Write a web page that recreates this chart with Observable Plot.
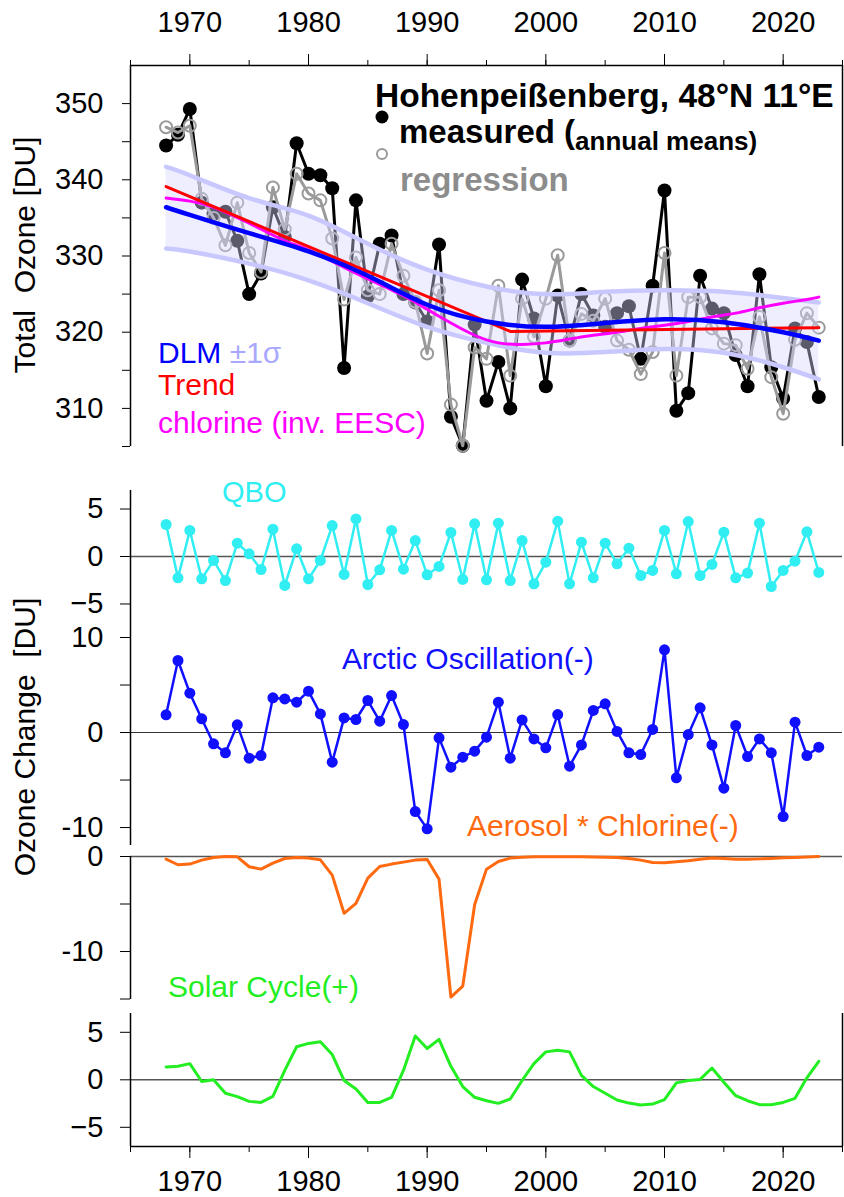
<!DOCTYPE html>
<html><head><meta charset="utf-8">
<script src="https://cdn.jsdelivr.net/npm/d3@7"></script>
<script src="https://cdn.jsdelivr.net/npm/@observablehq/plot@0.6"></script>
<style>
body{margin:0;background:#fff;}
#wrap{position:relative;width:844px;height:1197px;font-family:"Liberation Sans",Arial,sans-serif;}
#wrap svg{position:absolute;left:0;top:0;}
</style></head><body><div id="wrap"></div>
<script>
// ---------- data ----------
const years = d3.range(1968, 2024);
const measured = [344.5,345.9,349.3,337.0,335.5,335.8,332.0,325.0,327.7,336.4,332.5,344.8,340.8,340.6,338.9,
  315.3,337.3,324.7,331.6,332.7,325.0,323.9,321.4,331.5,308.9,305.1,321.0,311.0,316.1,310.0,326.9,321.8,
  312.9,324.8,318.9,325.0,322.2,320.7,322.5,323.4,316.5,326.1,338.6,309.7,312.0,327.4,323.1,322.5,317.0,
  312.9,327.6,315.4,311.3,320.5,318.7,311.5];
const regression = [346.9,346.2,347.1,337.5,335.0,331.4,337.0,330.4,327.9,339.0,333.5,340.8,338.2,337.3,332.3,
  324.3,329.8,325.5,325.0,331.6,327.4,324.0,317.2,325.5,310.5,305.1,318.0,316.5,326.1,314.3,324.4,319.4,
  324.4,330.1,318.9,322.4,321.5,324.4,318.9,317.7,314.5,317.4,330.4,314.3,324.6,324.6,320.5,318.5,318.3,
  315.2,322.0,314.1,309.3,319.0,322.5,320.6];
const smoothYears = [1968,1970,1975,1980,1985,1990,1995,2000,2005,2010,2015,2020,2023];
const dlm       = [336.4,335.4,333.0,330.6,327.4,323.6,321.4,320.7,321.2,321.7,321.3,320.0,318.9];
const bandUpper = [341.7,340.6,337.6,335.3,331.6,328.2,326.0,325.0,325.3,325.5,325.3,324.5,323.9];
const bandLower = [331.0,330.6,329.0,326.8,323.8,320.7,318.6,317.3,317.4,317.8,317.3,315.4,313.8];
const chlorineYears = [1968,1970,1972,1975,1978,1980,1983,1985,1988,1990,1992,1994,1996,1998,2000,2002,2004,
  2006,2008,2010,2012,2014,2016,2018,2020,2022,2023];
const chlorine = [337.6,337.2,336.4,334.3,332.0,330.8,328.5,327.0,324.8,323.0,321.2,319.6,318.6,318.4,318.6,
  319.1,319.6,320.0,320.5,320.9,321.4,322.0,322.5,323.2,323.8,324.3,324.6];
const trendYears = [1968,1997,2023];
const trend = [339.1,320.1,320.6];
const qbo = [3.37,-2.25,2.74,-2.35,-0.42,-2.53,1.40,0.28,-1.37,2.88,-3.05,0.81,-2.35,-0.42,3.26,-1.89,3.96,
  -2.95,-1.40,2.74,-1.33,1.68,-1.93,-1.05,2.53,-2.42,3.44,-2.46,3.51,-2.53,1.68,-2.88,-0.60,3.72,-2.88,1.51,
  -2.25,1.40,-0.77,0.88,-2.00,-1.47,2.74,-1.82,3.68,-2.00,-0.84,2.56,-2.25,-1.75,3.51,-3.16,-1.47,-0.49,2.60,-1.68];
const ao = [1.86,7.58,4.14,1.44,-1.19,-2.14,0.81,-2.70,-2.42,3.65,3.54,3.19,4.35,1.96,-3.12,1.54,1.37,3.37,
  1.19,3.89,0.84,-8.32,-10.14,-0.56,-3.65,-2.60,-1.96,-0.49,3.19,-2.70,1.33,-0.67,-1.61,1.89,-3.54,-1.30,2.32,
  3.02,0.11,-2.14,-2.32,0.32,8.70,-4.77,-0.21,2.60,-1.30,-5.86,0.74,-2.53,-0.67,-2.14,-8.84,1.09,-2.42,-1.54];
const aerosol = [-0.28,-0.87,-0.80,-0.38,-0.10,0.0,-0.03,-1.08,-1.33,-0.70,-0.21,-0.10,-0.17,-0.35,-1.96,
  -5.98,-4.93,-2.27,-1.05,-0.80,-0.59,-0.38,-0.31,-2.38,-14.79,-13.64,-5.07,-1.33,-0.52,-0.17,-0.07,-0.03,
  -0.02,-0.02,-0.03,-0.03,-0.05,-0.07,-0.10,-0.20,-0.38,-0.63,-0.66,-0.56,-0.45,-0.28,-0.17,-0.21,-0.28,
  -0.28,-0.25,-0.20,-0.14,-0.10,-0.05,0.0];
const solar = [1.35,1.42,1.70,-0.18,0.0,-1.42,-1.77,-2.27,-2.38,-1.74,0.99,3.48,3.83,4.01,2.66,-0.07,-0.96,
  -2.38,-2.38,-1.84,0.99,4.61,3.30,4.26,1.42,-0.71,-1.84,-2.20,-2.48,-2.02,-0.07,1.70,2.94,3.12,2.94,0.46,
  -0.71,-1.42,-2.13,-2.45,-2.66,-2.55,-2.09,-0.32,-0.07,0.04,1.24,-0.25,-1.67,-2.20,-2.62,-2.62,-2.38,-1.95,0.21,1.95];
const decadeTicks = [1970,1980,1990,2000,2010,2020];
const fiveYearTicks = d3.range(1965, 2026, 5);
const ozoneTicks = d3.range(305, 351, 5);

// ---------- tables built from the arrays ----------
const rows = years.map((year, i) => ({year, measured: measured[i], regression: regression[i],
  qbo: qbo[i], ao: ao[i], aerosol: aerosol[i], solar: solar[i]}));
const smooth = smoothYears.map((year, i) => ({year, dlm: dlm[i], hi: bandUpper[i], lo: bandLower[i]}));
const chl = chlorineYears.map((year, i) => ({year, v: chlorine[i]}));
const trd = trendYears.map((year, i) => ({year, v: trend[i]}));

// ---------- layout (page pixels) ----------
const W = 844, H = 1197;
const FONT = "'Liberation Sans', Arial, sans-serif";
const AX = {stroke: "#000", strokeWidth: 1.5};
const QBO_C = "#30eef2", AO_C = "#1010ff", AER_C = "#ff6a10", SOL_C = "#22ee22";
const base = {
  width: W, height: H, marginLeft: 130, marginRight: 2,
  x: {domain: [1965, 2025], axis: null},
  style: {background: "transparent", fontFamily: FONT, overflow: "visible"}
};
const wrap = document.getElementById("wrap");
function add(p) { wrap.appendChild(p); }

// Panel 1: total ozone
add(Plot.plot({
  ...base, marginTop: 65, marginBottom: H - 446,
  y: {domain: [305, 355], axis: null},
  marks: [
    Plot.line(rows, {x: "year", y: "measured", stroke: "#000", strokeWidth: 3}),
    Plot.dot(rows, {x: "year", y: "measured", r: 7, fill: "#000", stroke: "none"}),
    Plot.line(rows, {x: "year", y: "regression", stroke: "#9a9a9a", strokeWidth: 3}),
    Plot.dot(rows, {x: "year", y: "regression", r: 6, fill: "none", stroke: "#9a9a9a", strokeWidth: 2}),
    Plot.areaY(smooth, {x: "year", y1: "lo", y2: "hi", fill: "#d6d6ff", fillOpacity: 0.42, curve: "natural"}),
    Plot.line(smooth, {x: "year", y: "hi", stroke: "#c8c8ff", strokeWidth: 4.5, curve: "natural"}),
    Plot.line(smooth, {x: "year", y: "lo", stroke: "#c8c8ff", strokeWidth: 4.5, curve: "natural"}),
    Plot.line(chl, {x: "year", y: "v", stroke: "#ff00ff", strokeWidth: 3, curve: "natural"}),
    Plot.line(trd, {x: "year", y: "v", stroke: "#ff0000", strokeWidth: 3}),
    Plot.line(smooth, {x: "year", y: "dlm", stroke: "#0000ff", strokeWidth: 4.5, curve: "natural"}),
    Plot.ruleX([1965, 2025], {...AX}),
    Plot.ruleY([355], {...AX}),
    Plot.axisX({anchor: "top", ticks: fiveYearTicks, tickSize: 6, tickFormat: () => "", label: null}),
    Plot.axisX({anchor: "top", ticks: decadeTicks, tickSize: 12, tickPadding: 22, fontSize: 29, tickFormat: d => String(d), label: null}),
    Plot.axisY({ticks: ozoneTicks, tickSize: 8, tickPadding: 19, fontSize: 29, tickFormat: d => d % 10 === 0 ? String(d) : "", label: null})
  ]
}));

// Panel 2: QBO
add(Plot.plot({
  ...base, marginTop: 490, marginBottom: H - 620,
  y: {domain: [-6.74, 6.95], axis: null},
  marks: [
    Plot.ruleY([0], {stroke: "#555", strokeWidth: 1.5}),
    Plot.ruleX([1965], {...AX}),
    Plot.axisY({ticks: [-5, 0, 5], tickSize: 10, tickPadding: 17, fontSize: 29, label: null}),
    Plot.line(rows, {x: "year", y: "qbo", stroke: QBO_C, strokeWidth: 2.5}),
    Plot.dot(rows, {x: "year", y: "qbo", r: 5.5, fill: QBO_C, stroke: "none"})
  ]
}));

// Panel 3: Arctic Oscillation
add(Plot.plot({
  ...base, marginTop: 620, marginBottom: H - 845,
  y: {domain: [-11.89, 11.79], axis: null},
  marks: [
    Plot.ruleY([0], {stroke: "#333", strokeWidth: 1.2}),
    Plot.ruleX([1965], {...AX}),
    Plot.axisY({ticks: [-10, -5, 0, 5, 10], tickSize: 10, tickPadding: 17, fontSize: 29,
      tickFormat: d => d % 10 === 0 ? String(d) : "", label: null}),
    Plot.line(rows, {x: "year", y: "ao", stroke: AO_C, strokeWidth: 2.5}),
    Plot.dot(rows, {x: "year", y: "ao", r: 5.5, fill: AO_C, stroke: "none"})
  ]
}));

// Panel 4: Aerosol * Chlorine
add(Plot.plot({
  ...base, marginTop: 856, marginBottom: H - 999,
  y: {domain: [-15.05, 0], axis: null},
  marks: [
    Plot.ruleY([0], {stroke: "#555", strokeWidth: 1.5}),
    Plot.ruleX([1965], {...AX}),
    Plot.axisY({ticks: [-15, -10, -5, 0], tickSize: 10, tickPadding: 17, fontSize: 29,
      tickFormat: d => d % 10 === 0 ? String(d) : "", label: null}),
    Plot.line(rows, {x: "year", y: "aerosol", stroke: AER_C, strokeWidth: 3})
  ]
}));

// Panel 5: Solar cycle
add(Plot.plot({
  ...base, marginTop: 1013, marginBottom: H - 1146,
  y: {domain: [-7.02, 6.98], axis: null},
  marks: [
    Plot.ruleY([0], {stroke: "#555", strokeWidth: 1.5}),
    Plot.ruleX([1965, 2025], {...AX}),
    Plot.ruleY([-7.02], {...AX}),
    Plot.axisY({ticks: [-5, 0, 5], tickSize: 10, tickPadding: 17, fontSize: 29, label: null}),
    Plot.axisX({anchor: "bottom", ticks: fiveYearTicks, tickSize: 6, tickFormat: () => "", label: null}),
    Plot.axisX({anchor: "bottom", ticks: decadeTicks, tickSize: 12, tickPadding: 12, fontSize: 29, tickFormat: d => String(d), label: null}),
    Plot.line(rows, {x: "year", y: "solar", stroke: SOL_C, strokeWidth: 3})
  ]
}));

// ---------- annotations (text) ----------
const svg = d3.create("svg").attr("width", W).attr("height", H)
  .style("font-family", FONT).style("overflow", "visible");
function txt(s, x, y, size, color, weight) {
  return svg.append("text").attr("x", x).attr("y", y).attr("font-size", size)
    .attr("fill", color).attr("font-weight", weight || "normal").text(s);
}
txt("Hohenpeißenberg, 48°N 11°E", 375, 107, 33.5, "#000", "bold");
const m = svg.append("text").attr("x", 399).attr("y", 143).attr("font-weight", "bold").attr("fill", "#000");
m.append("tspan").attr("font-size", 33).text("measured (");
m.append("tspan").attr("font-size", 26).attr("dy", 7).text("annual means)");
txt("regression", 400, 191, 33, "#8c8c8c", "bold");
svg.append("circle").attr("cx", 382).attr("cy", 117).attr("r", 6.5).attr("fill", "#000");
svg.append("circle").attr("cx", 382).attr("cy", 154).attr("r", 5).attr("fill", "none").attr("stroke", "#999").attr("stroke-width", 2);

const dl = svg.append("text").attr("x", 158).attr("y", 363).attr("font-size", 30);
dl.append("tspan").attr("fill", "#0000ff").text("DLM ");
dl.append("tspan").attr("fill", "#a8a8ff").text("±1σ");
txt("Trend", 158, 395, 30, "#ff0000");
txt("chlorine (inv. EESC)", 158, 433, 30, "#ff00ff");

txt("QBO", 222, 502, 29, QBO_C);
txt("Arctic Oscillation(-)", 342, 669, 30, AO_C);
txt("Aerosol * Chlorine(-)", 467, 836, 30, AER_C);
txt("Solar Cycle(+)", 168, 997, 30, SOL_C);

svg.append("text").attr("font-size", 30).attr("fill", "#000").attr("text-anchor", "middle")
  .attr("transform", "translate(35,255) rotate(-90)").style("white-space", "pre").text("Total  Ozone [DU]");
svg.append("text").attr("font-size", 30).attr("fill", "#000").attr("text-anchor", "middle")
  .attr("transform", "translate(35,737) rotate(-90)").style("white-space", "pre").text("Ozone Change  [DU]");
wrap.appendChild(svg.node());
</script></body></html>
